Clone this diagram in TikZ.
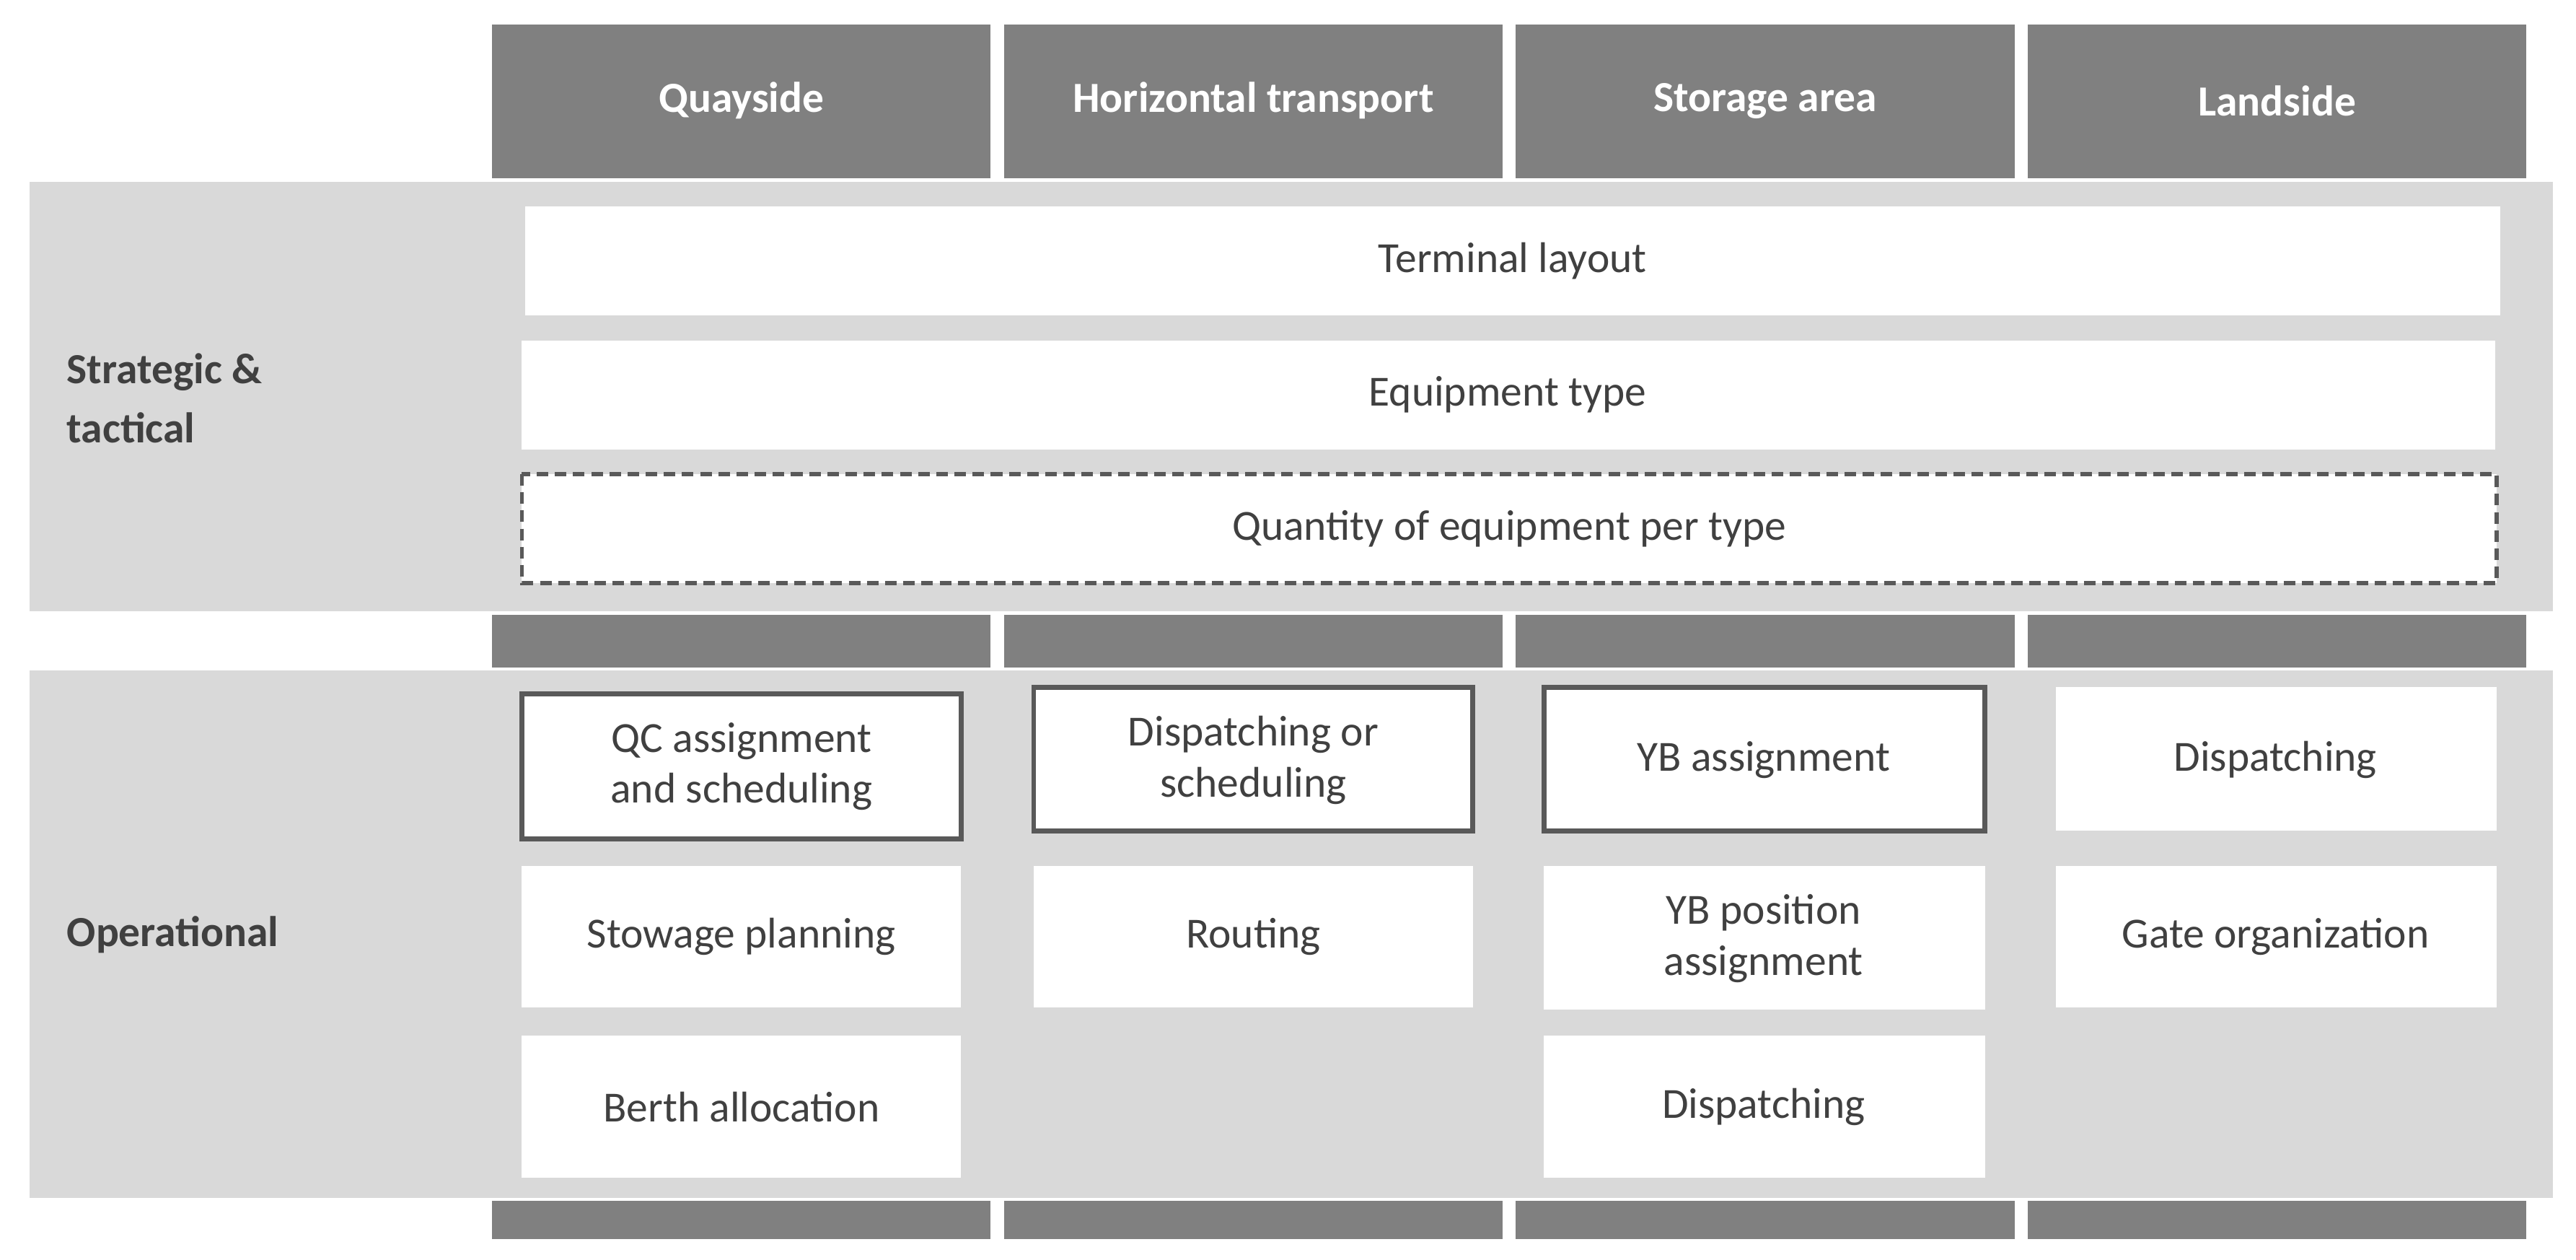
\documentclass[tikz,border=0pt]{standalone}
\usepackage{fontspec}
\setmainfont{Carlito}
\begin{document}
\begin{tikzpicture}[x=1pt,y=-1pt,
 hdr/.style={fill=hdrgray,draw=none},
 wbox/.style={fill=white,draw=none},
 bbox/.style={fill=white,draw=bordgray,line width=3pt},
 dbox/.style={fill=white,draw=bordgray,line width=2.5pt,dash pattern=on 7pt off 4pt},
 txt/.style={font=\fontsize{26}{31}\selectfont,text=txtgray,align=center},
 htxt/.style={font=\fontsize{26}{31}\selectfont\bfseries,text=white},
 ltxt/.style={font=\fontsize{26}{36}\selectfont\bfseries,text=txtgray,align=left,anchor=west}]
\definecolor{hdrgray}{HTML}{808080}
\definecolor{bandgray}{HTML}{D9D9D9}
\definecolor{bordgray}{HTML}{595959}
\definecolor{txtgray}{HTML}{404040}
\useasboundingbox (0,0) rectangle (1560,762.7);
\fill[white] (0,0) rectangle (1560,762.7);
\fill[bandgray] (18,110) rectangle (1546,370);
\fill[bandgray] (18,406) rectangle (1546,725);
\foreach \a/\b/\t [count=\i] in {298/600/Quayside,608/910/Horizontal transport,918/1220/Storage area,1228/1530/Landside}{
  \fill[hdrgray] (\a,15) rectangle (\b,108);
  \node[htxt] (h\i) at ({(\a+\b)/2},61) {\t};
  \fill[hdrgray] (\a,372) rectangle (\b,404);
  \fill[hdrgray] (\a,727) rectangle (\b,750);
}
\node[ltxt] (st) at (37,241) {Strategic \&\\tactical};
\node[ltxt] (op) at (37,566) {Operational};
\path[wbox] (318,125) rectangle (1514,191);
\node[txt] (tl) at (916,158) {Terminal layout};
\path[wbox] (316,206) rectangle (1511,272);
\node[txt] (et) at (913,239) {Equipment type};
\path[dbox] (316,287) rectangle (1512,353);
\node[txt] (q) at (914,320) {Quantity of equipment per type};
% operational
\path[bbox] (316,420) rectangle (582,508);
\node[txt] (a1) at (449,464) {QC assignment\\and scheduling};
\path[wbox] (316,524) rectangle (582,610);
\node[txt] (a2) at (449,567) {Stowage planning};
\path[wbox] (316,627) rectangle (582,713);
\node[txt] (a3) at (449,670) {Berth allocation};
\path[bbox] (626,416) rectangle (892,503);
\node[txt] (b1) at (759,460) {Dispatching or\\scheduling};
\path[wbox] (626,524) rectangle (892,610);
\node[txt] (b2) at (759,567) {Routing};
\path[bbox] (935,416) rectangle (1202,503);
\node[txt] (c1) at (1068,460) {YB assignment};
\path[wbox] (935,524) rectangle (1202,611);
\node[txt] (c2) at (1068,568) {YB position\\assignment};
\path[wbox] (935,627) rectangle (1202,713);
\node[txt] (c3) at (1068,670) {Dispatching};
\path[wbox] (1245,416) rectangle (1512,503);
\node[txt] (d1) at (1378,460) {Dispatching};
\path[wbox] (1245,524) rectangle (1512,610);
\node[txt] (d2) at (1378,567) {Gate organization};
\end{tikzpicture}
\end{document}
